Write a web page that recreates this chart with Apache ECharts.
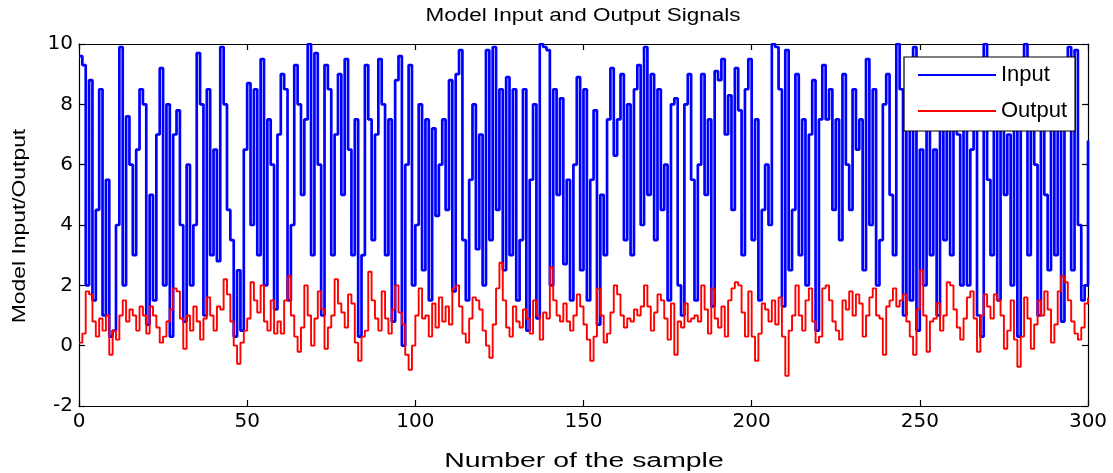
<!DOCTYPE html>
<html>
<head>
<meta charset="utf-8">
<script src="https://cdn.jsdelivr.net/npm/echarts@6/dist/echarts.min.js"></script>
<style>
html,body{margin:0;padding:0;background:#fff;}
#chart{width:1113px;height:473px;}
</style>
</head>
<body>
<div id="chart"></div>
<script>
// ---- data ----
const titleText = 'Model Input and Output Signals';
const xName = 'Number of the sample';
const yName = 'Model Input/Output';
const seriesNames = ['Input', 'Output'];
const xTicks = [0, 50, 100, 150, 200, 250, 300];
const yTicks = [-2, 0, 2, 4, 6, 8, 10];

const inputSignal = [
  9.6, 9.3, 2.0, 8.8, 1.5, 4.5, 8.5, 1.0, 5.5, 0.3,
  0.5, 4.0, 9.9, 2.0, 7.6, 6.0, 3.0, 6.5, 8.5, 8.0,
  0.7, 5.0, 1.5, 7.0, 9.2, 2.0, 8.0, 0.3, 7.0, 7.8,
  4.0, 0.8, 6.0, 2.0, 4.0, 9.7, 8.0, 1.0, 8.5, 3.0,
  6.5, 2.8, 9.9, 8.0, 4.5, 3.5, 0.3, 2.5, 0.5, 6.5,
  8.7, 4.0, 8.5, 3.0, 9.5, 2.0, 7.5, 6.0, 1.2, 7.0,
  9.0, 8.5, 1.5, 4.0, 9.3, 8.0, 5.0, 7.5, 10.0, 3.0,
  9.7, 6.0, 1.0, 9.3, 8.5, 3.0, 7.0, 9.0, 5.0, 9.5,
  6.5, 3.0, 7.5, 0.3, 3.0, 9.3, 7.5, 3.5, 7.0, 9.5,
  8.0, 3.0, 7.5, 0.8, 8.8, 9.6, 0.0, 6.0, 9.3, 2.0,
  4.0, 8.0, 2.5, 7.5, 1.5, 7.2, 4.3, 6.0, 7.5, 4.5,
  8.8, 1.8, 9.0, 9.8, 3.5, 1.5, 5.5, 8.0, 3.2, 7.0,
  2.0, 9.8, 3.5, 9.9, 4.5, 8.5, 2.5, 8.9, 3.0, 8.5,
  1.5, 3.5, 8.5, 0.5, 5.5, 8.0, 0.9, 10.0, 9.9, 9.8,
  2.0, 8.5, 5.0, 8.2, 2.7, 5.5, 1.5, 6.0, 8.9, 2.5,
  8.5, 1.5, 5.5, 7.8, 0.7, 5.0, 3.0, 7.5, 9.2, 6.3,
  7.5, 9.0, 3.5, 8.0, 3.0, 8.5, 9.3, 4.0, 9.9, 5.0,
  9.0, 3.5, 8.5, 4.5, 6.0, 1.5, 8.0, 8.2, 2.0, 1.0,
  8.0, 9.0, 5.5, 1.5, 6.0, 9.0, 5.0, 7.5, 1.3, 9.1,
  8.8, 9.5, 7.0, 8.3, 4.5, 9.2, 7.8, 3.0, 8.5, 9.5,
  3.5, 7.5, 1.5, 4.5, 6.0, 4.0, 10.0, 9.9, 8.5, 1.3,
  9.8, 2.5, 4.5, 9.0, 3.0, 7.5, 2.0, 7.0, 8.8, 0.5,
  7.5, 9.3, 7.5, 8.5, 4.5, 7.5, 3.5, 9.0, 6.0, 4.5,
  8.5, 6.5, 7.5, 2.5, 9.5, 4.0, 8.5, 2.0, 3.5, 8.0,
  9.0, 5.0, 3.0, 10.0, 8.5, 1.0, 7.5, 1.5, 9.9, 0.5,
  6.5, 2.0, 8.5, 3.0, 6.5, 1.0, 7.5, 3.5, 8.5, 3.0,
  9.5, 7.0, 2.0, 8.0, 2.0, 6.5, 9.5, 1.0, 0.3, 10.0,
  5.5, 3.0, 8.0, 1.5, 8.0, 5.0, 7.0, 2.0, 7.5, 0.3,
  9.0, 10.0, 3.0, 8.5, 6.0, 1.0, 8.5, 5.0, 2.5, 8.0,
  3.0, 9.0, 0.8, 7.5, 9.9, 2.5, 9.8, 4.0, 1.5, 2.0,
  6.8
];

const outputSignal = [
  0.1, 0.4, 1.8, 1.7, 0.8, 0.3, 0.9, 0.5, 1.0, -0.3,
  0.5, 0.2, 1.0, 1.5, 0.8, 1.2, 1.0, 0.5, 1.3, 1.0,
  0.4, 1.3, 1.0, 0.6, 0.1, 0.3, 0.8, 1.2, 1.9, 1.8,
  0.9, -0.1, 1.0, 0.5, 1.3, 0.8, 0.2, 0.9, 1.6, 1.0,
  0.5, 1.3, 1.2, 2.2, 1.7, 0.8, 0.0, -0.6, 0.1, 0.5,
  0.9, 2.1, 1.5, 1.1, 2.0, 0.8, 0.5, 1.5, 0.4, 0.8,
  0.4, 1.5, 2.3, 1.0, 0.3, -0.2, 0.6, 2.0, 1.0, 0.0,
  0.9, 1.8, 1.2, -0.1, 0.6, 1.0, 2.2, 1.4, 1.1, 0.6,
  1.7, 1.4, 0.1, -0.5, 0.3, 0.5, 2.45, 1.5, 0.9, 0.5,
  1.8, 0.9, 0.4, 1.2, 2.0, 1.1, 0.7, -0.3, -0.8, 0.0,
  1.0, 1.9, 0.9, 1.0, 0.3, 1.4, 0.6, 1.6, 0.8, 1.3,
  0.7, 1.9, 2.0, 1.3, 0.4, 0.1, 0.9, 1.6, 1.5, 1.2,
  0.5, 0.0, -0.4, 0.7, 1.9, 2.75, 1.5, 0.6, 0.3, 1.3,
  0.8, 0.6, 1.2, 0.9, 0.4, 1.5, 1.0, 0.2, 1.1, 0.9,
  2.6, 1.5, 1.0, 0.8, 1.4, 0.8, 0.5, 1.0, 1.7, 1.3,
  0.7, 0.2, -0.5, 0.3, 1.9, 1.0, 0.1, 0.4, 1.1, 2.0,
  1.7, 1.0, 0.6, 0.9, 0.8, 1.2, 1.0, 1.3, 2.0, 1.3,
  0.5, 1.1, 1.7, 1.5, 0.9, 0.2, 1.4, -0.3, 0.8, 0.6,
  1.4, 0.8, 0.9, 1.0, 0.8, 2.0, 1.2, 0.4, 1.9, 0.9,
  0.6, 1.3, 0.3, 1.5, 1.9, 2.1, 2.0, 1.1, 0.3, 1.8,
  0.3, -0.5, 0.4, 1.4, 1.2, 0.8, 1.5, 0.7, 1.6, 0.3,
  -1.0, 0.5, 1.0, 2.0, 1.0, 0.5, 1.5, 1.9, 0.8, 0.1,
  0.3, 1.9, 2.0, 1.5, 0.8, 0.5, 0.2, 1.5, 1.2, 1.8,
  1.0, 1.7, 1.4, 0.3, 1.0, 1.6, 1.9, 1.0, 0.9, -0.3,
  1.3, 1.5, 1.9, 1.3, 1.5, 1.7, 0.8, 0.3, -0.3, 1.2,
  2.5, 1.0, -0.2, 0.8, 0.9, 1.4, 0.5, 1.0, 2.1, 2.0,
  1.2, 0.6, 0.2, 0.9, 1.6, 1.8, 0.9, -0.2, 1.0, 1.7,
  1.3, 0.9, 1.7, 1.5, 1.0, -0.1, 0.5, 1.5, 0.2, -0.7,
  0.3, 1.6, 0.9, -0.1, 0.7, 1.5, 1.0, 1.8, 1.2, 0.1,
  0.7, 1.8, 2.3, 2.1, 1.5, 0.8, 0.4, 0.2, 0.6, 1.4,
  1.6
];

// ---- chart ----
const chart = echarts.init(document.getElementById('chart'), null, {renderer: 'canvas'});
const FONT = 'Liberation Sans, Arial, Helvetica, sans-serif';
const TICKFONT = 'DejaVu Sans, sans-serif';

const pairs = arr => arr.map((v, i) => [i, v]);

function axisCommon(showLabel) {
  return {
    type: 'value',
    axisLine: {show: true, onZero: false, lineStyle: {color: '#000', width: 1.2}},
    axisTick: {show: true, inside: true, length: 6, lineStyle: {color: '#000', width: 1.2}},
    axisLabel: {show: showLabel, color: '#000', fontFamily: TICKFONT, fontSize: 20},
    splitLine: {show: false}
  };
}

const xMin = xTicks[0], xMax = xTicks[xTicks.length - 1];
const yMin = yTicks[0], yMax = yTicks[yTicks.length - 1];
const xStep = xTicks[1] - xTicks[0], yStep = yTicks[1] - yTicks[0];

const option = {
  backgroundColor: '#fff',
  animation: false,
  grid: {left: 79, right: 25, top: 44, bottom: 67, show: false},
  xAxis: [
    Object.assign(axisCommon(true), {position: 'bottom', min: xMin, max: xMax, interval: xStep,
      axisLabel: {show: true, color: '#000', fontFamily: TICKFONT, fontSize: 20, margin: 6}}),
    Object.assign(axisCommon(false), {position: 'top', min: xMin, max: xMax, interval: xStep})
  ],
  yAxis: [
    Object.assign(axisCommon(true), {position: 'left', min: yMin, max: yMax, interval: yStep,
      axisLabel: {show: true, color: '#000', fontFamily: TICKFONT, fontSize: 20, margin: 6}}),
    Object.assign(axisCommon(false), {position: 'right', min: yMin, max: yMax, interval: yStep})
  ],
  legend: {
    orient: 'vertical',
    left: 904, top: 57,
    backgroundColor: '#fff',
    borderColor: '#000', borderWidth: 1.2,
    padding: [7, 8, 9, 14],
    itemWidth: 78, itemHeight: 2, itemGap: 14,
    textStyle: {color: '#000', fontFamily: FONT, fontSize: 22},
    data: [
      {name: seriesNames[0], icon: 'rect'},
      {name: seriesNames[1], icon: 'rect'}
    ]
  },
  graphic: [
    {type: 'text', x: 583, y: 16, scaleX: 1.25,
      style: {text: titleText, fill: '#000', font: '18px ' + FONT, textAlign: 'center', textVerticalAlign: 'middle'}},
    {type: 'text', x: 584, y: 461, scaleX: 1.42,
      style: {text: xName, fill: '#000', font: '20px ' + FONT, textAlign: 'center', textVerticalAlign: 'middle'}},
    {type: 'text', x: 20, y: 226, rotation: Math.PI / 2, scaleX: 1.27,
      style: {text: yName, fill: '#000', font: '18px ' + FONT, textAlign: 'center', textVerticalAlign: 'middle'}}
  ],
  series: [
    {name: seriesNames[0], type: 'line', step: 'end', data: pairs(inputSignal), xAxisIndex: 0, yAxisIndex: 0,
      showSymbol: false, symbol: 'none', color: '#0000ff',
      lineStyle: {color: '#0000ff', width: 2.7}, z: 2},
    {name: seriesNames[1], type: 'line', step: 'end', data: pairs(outputSignal), xAxisIndex: 0, yAxisIndex: 0,
      showSymbol: false, symbol: 'none', color: '#ff0000',
      lineStyle: {color: '#ff0000', width: 1.9}, z: 3}
  ]
};
chart.setOption(option);
</script>
</body>
</html>
